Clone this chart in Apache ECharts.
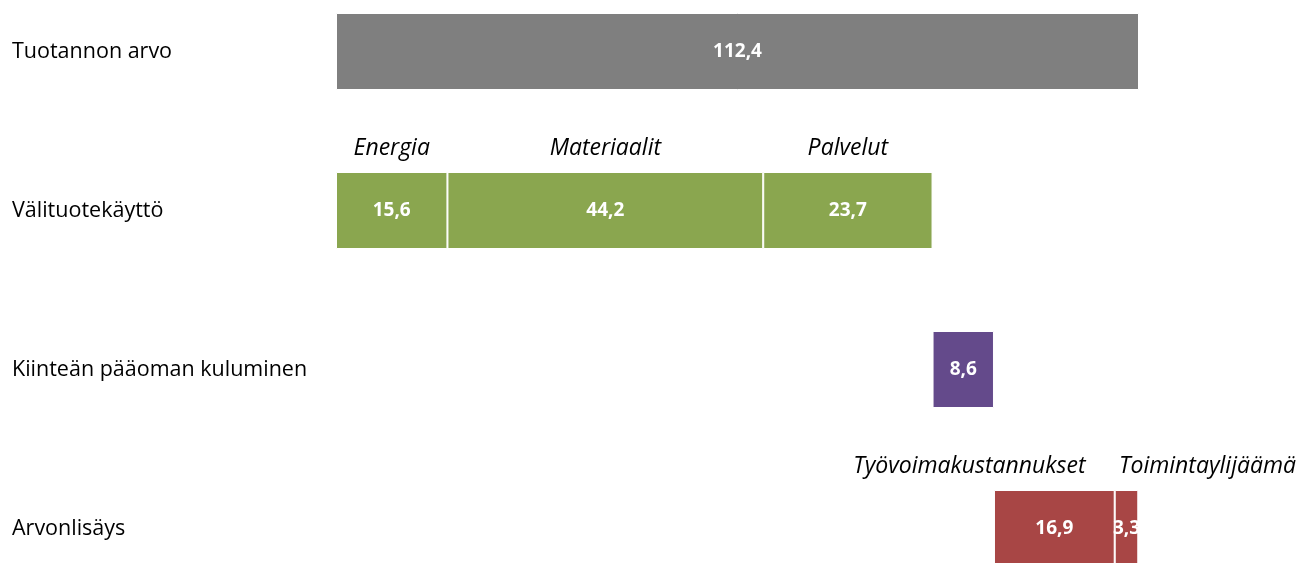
<!DOCTYPE html>
<html>
<head>
<meta charset="utf-8">
<script src="https://cdn.jsdelivr.net/npm/echarts@6/dist/echarts.min.js"></script>
<style>
  html, body { margin: 0; padding: 0; background: #fff; }
  #chart { width: 1299px; height: 563px; }
</style>
</head>
<body>
<div id="chart"></div>
<script>
// rivit ylhäältä alas
const categories = ['Tuotannon arvo', 'Välituotekäyttö', 'Kiinteän pääoman kuluminen', 'Arvonlisäys']
// näkymätön alku (kumulatiivinen kohta)
const baseValues = [0, 0, 83.5, 92.1]
const seg1 = [112.4, 15.6, 8.6, 16.9]
const seg2 = ['-', 44.2, '-', 3.3]
const seg3 = ['-', 23.7, '-', '-']
const seg1Names = ['', 'Energia', '', 'Työvoimakustannukset']
const seg2Names = ['', 'Materiaalit', '', 'Toimintaylijäämä']
const seg3Names = ['', 'Palvelut', '', '']
const rowColors = ['#7f7f7f', '#8aa64f', '#644a8b', '#a84645']

const font = '"Open Sans", "Noto Sans", sans-serif'

let chart = echarts.init(document.getElementById('chart'))

function fmt(v){
  return String(v).replace('.', ',')
}

function valueSeries(vals){
  return {
    type: 'bar',
    stack: 'v',
    barWidth: 77,
    barGap: '-100%',
    silent: true,
    data: vals.map((v, i) => ({
      value: v,
      itemStyle: { color: rowColors[i], borderColor: '#fff', borderWidth: 1 }
    })),
    label: {
      show: true,
      position: 'inside',
      color: '#fff',
      fontFamily: font,
      fontWeight: 'bold',
      fontSize: 19,
      formatter: p => fmt(p.value)
    }
  }
}

function nameSeries(vals, names, offsets){
  return {
    type: 'bar',
    stack: 'n',
    barWidth: 77,
    barGap: '-100%',
    silent: true,
    itemStyle: { color: 'transparent' },
    data: vals.map((v, i) => ({
      value: v,
      label: { offset: [offsets[i] || 0, 0] }
    })),
    label: {
      show: true,
      position: 'top',
      distance: 12,
      color: '#000',
      fontFamily: font,
      fontStyle: 'italic',
      fontSize: 23,
      formatter: p => names[p.dataIndex]
    }
  }
}

const baseSeries = (stack) => ({
  type: 'bar',
  stack: stack,
  barWidth: 77,
  barGap: '-100%',
  silent: true,
  itemStyle: { color: 'transparent' },
  data: baseValues
})

let option = {
  animation: false,
  grid: { left: 336, right: 160, top: -28, height: 636, outerBoundsMode: 'none', containLabel: false },
  xAxis: { type: 'value', min: 0, max: 112.4, show: false },
  yAxis: {
    type: 'category',
    inverse: true,
    data: categories,
    axisLine: { show: false },
    axisTick: { show: false },
    splitLine: { show: false },
    axisLabel: {
      margin: 324,
      align: 'left',
      color: '#000',
      fontFamily: font,
      fontSize: 21.5
    }
  },
  series: [
    baseSeries('v'),
    valueSeries(seg1),
    valueSeries(seg2),
    valueSeries(seg3),
    baseSeries('n'),
    nameSeries(seg1, seg1Names, [0, 0, 0, -85]),
    nameSeries(seg2, seg2Names, [0, 0, 0, 81]),
    nameSeries(seg3, seg3Names, [0, 0, 0, 0])
  ]
}

chart.setOption(option)
</script>
</body>
</html>
